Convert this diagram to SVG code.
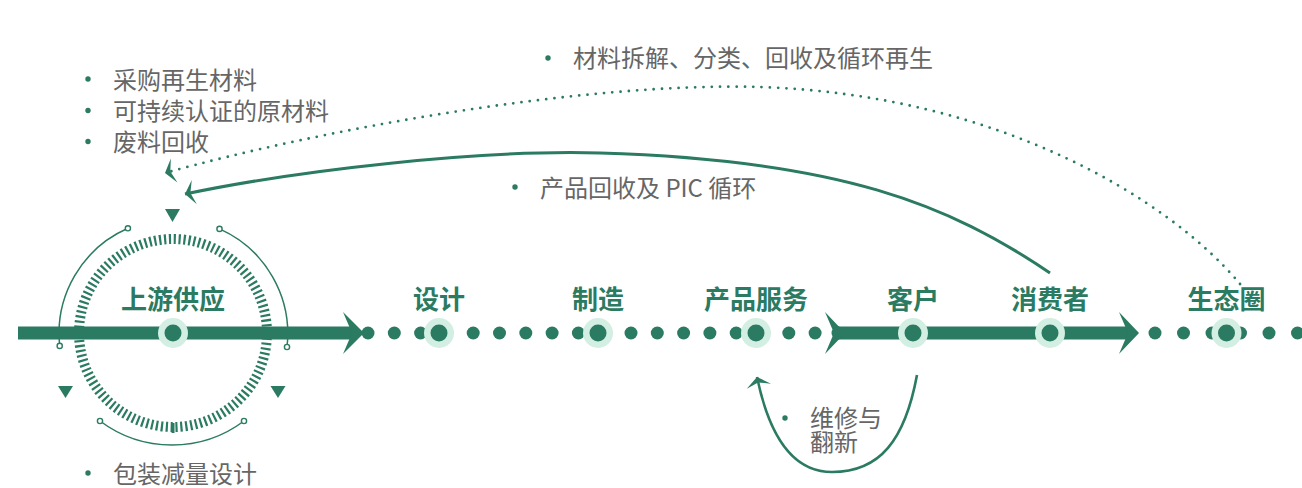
<svg xmlns="http://www.w3.org/2000/svg" width="1302" height="488" viewBox="0 0 1302 488">
<style>
.lbl{font-family:"Noto Sans CJK SC","Noto Sans",sans-serif;font-weight:700;font-size:26px;fill:#2b7a62;text-anchor:middle}
.txt{font-family:"Noto Sans CJK SC","Noto Sans",sans-serif;font-size:24px;fill:#666666}
.dot{fill:#2b7a62}
.bul{fill:#2b7a62}
.halo{fill:#d3eee2}
.core{fill:#2b7a62}
.thin{fill:none;stroke:#2b7a62;stroke-width:1.5}
.end{fill:#ffffff;stroke:#2b7a62;stroke-width:1.4}
.tri{fill:#2b7a62}
.conn{fill:none;stroke:#2b7a62;stroke-width:3}
.dotted{fill:none;stroke:#2b7a62;stroke-width:2.8;stroke-linecap:round;stroke-dasharray:0 8.3}
</style>
<defs>
<marker id="ah" viewBox="0 0 12 26" refX="10" refY="13" markerWidth="12" markerHeight="26" markerUnits="userSpaceOnUse" orient="auto">
<path d="M10,13 L0.5,0.6 L4.5,13 L0.5,25.4 Z" fill="#2b7a62"/>
</marker>
</defs>
<rect width="1302" height="488" fill="#ffffff"/>

<g id="ring-decor">
<circle cx="173" cy="333" r="94" fill="none" stroke="#2b7a62" stroke-width="10" stroke-dasharray="2.2 2.722"/>
<rect x="171.5" y="423" width="3" height="10" fill="#2b7a62"/>
<path class="thin" d="M59.7,345.9 A115,115 0 0 1 127.9,228.3"/>
<path class="thin" d="M219.5,228.9 A115,115 0 0 1 287,347"/>
<path class="thin" d="M100,421 A120,120 0 0 0 244,421"/>
<circle class="end" cx="59.7" cy="345.9" r="2.6"/>
<circle class="end" cx="127.9" cy="228.3" r="2.6"/>
<circle class="end" cx="219.5" cy="228.9" r="2.6"/>
<circle class="end" cx="287" cy="347" r="2.6"/>
<circle class="end" cx="100" cy="421" r="2.6"/>
<circle class="end" cx="244" cy="421" r="2.6"/>
<polygon class="tri" points="165,209 180,209 172.5,222"/>
<polygon class="tri" points="58,386 73,386 65.5,398"/>
<polygon class="tri" points="270.5,386 285.5,386 278,398"/>
</g>

<g id="axis">
<g id="dots">
<circle class="dot" cx="368" cy="333" r="6.5"/>
<circle class="dot" cx="394.3" cy="333" r="6.5"/>
<circle class="dot" cx="420.6" cy="333" r="6.5"/>
<circle class="dot" cx="446.9" cy="333" r="6.5"/>
<circle class="dot" cx="473.2" cy="333" r="6.5"/>
<circle class="dot" cx="499.5" cy="333" r="6.5"/>
<circle class="dot" cx="525.8" cy="333" r="6.5"/>
<circle class="dot" cx="552.1" cy="333" r="6.5"/>
<circle class="dot" cx="578.4" cy="333" r="6.5"/>
<circle class="dot" cx="604.7" cy="333" r="6.5"/>
<circle class="dot" cx="631" cy="333" r="6.5"/>
<circle class="dot" cx="657.3" cy="333" r="6.5"/>
<circle class="dot" cx="683.6" cy="333" r="6.5"/>
<circle class="dot" cx="709.9" cy="333" r="6.5"/>
<circle class="dot" cx="736.2" cy="333" r="6.5"/>
<circle class="dot" cx="762.5" cy="333" r="6.5"/>
<circle class="dot" cx="788.8" cy="333" r="6.5"/>
<circle class="dot" cx="815.1" cy="333" r="6.5"/>
<circle class="dot" cx="838" cy="333" r="6.5"/>
<circle class="dot" cx="1155" cy="333" r="6.5"/>
<circle class="dot" cx="1183.5" cy="333" r="6.5"/>
<circle class="dot" cx="1212" cy="333" r="6.5"/>
<circle class="dot" cx="1240.5" cy="333" r="6.5"/>
<circle class="dot" cx="1269" cy="333" r="6.5"/>
<circle class="dot" cx="1297.5" cy="333" r="6.5"/>
</g>
<rect x="18" y="326.5" width="337" height="13" fill="#2b7a62"/>
<polygon class="tri" points="343,312 364,333 343,354 352,333"/>
<rect x="834" y="326.5" width="296" height="13" fill="#2b7a62"/>
<polygon class="tri" points="825,312 845,333 825,354 834,333"/>
<polygon class="tri" points="1119,312 1139,333 1119,354 1128,333"/>
</g>

<g id="node-upstream"><circle class="halo" cx="173" cy="333" r="15"/><circle class="core" cx="173" cy="333" r="8.5"/><text class="lbl" x="173" y="309">上游供应</text></g>
<g id="node-design"><circle class="halo" cx="439" cy="333" r="15"/><circle class="core" cx="439" cy="333" r="8.5"/><text class="lbl" x="439" y="309">设计</text></g>
<g id="node-manufacture"><circle class="halo" cx="598" cy="333" r="15"/><circle class="core" cx="598" cy="333" r="8.5"/><text class="lbl" x="598" y="309">制造</text></g>
<g id="node-service"><circle class="halo" cx="756" cy="333" r="15"/><circle class="core" cx="756" cy="333" r="8.5"/><text class="lbl" x="756" y="309">产品服务</text></g>
<g id="node-customer"><circle class="halo" cx="913" cy="333" r="15"/><circle class="core" cx="913" cy="333" r="8.5"/><text class="lbl" x="913" y="309">客户</text></g>
<g id="node-consumer"><circle class="halo" cx="1050" cy="333" r="15"/><circle class="core" cx="1050" cy="333" r="8.5"/><text class="lbl" x="1050" y="309">消费者</text></g>
<g id="node-ecosystem"><circle class="halo" cx="1226.5" cy="333" r="15"/><circle class="core" cx="1226.5" cy="333" r="8.5"/><text class="lbl" x="1226.5" y="309">生态圈</text></g>

<g id="connectors">
<path class="conn" d="M1050,273 C950,205 840,160 600,153 C480,149.5 300,170 185,194" marker-end="url(#ah)"/>
<path class="dotted" d="M1240,284 C1170,200 1000,95 760,87 C580,82 320,130 165,173" marker-end="url(#ah)"/>
<path class="conn" style="stroke-width:2.6" d="M917,375 C905,440 880,472 832,472 C790,472 768,430 757,377" marker-end="url(#ah)"/>
</g>

<g id="notes">
<circle class="bul" cx="88" cy="79" r="2.7"/><text class="txt" x="113" y="89">采购再生材料</text>
<circle class="bul" cx="88" cy="110.5" r="2.7"/><text class="txt" x="113" y="120">可持续认证的原材料</text>
<circle class="bul" cx="88" cy="141.5" r="2.7"/><text class="txt" x="113" y="151">废料回收</text>
<circle class="bul" cx="548" cy="58" r="2.7"/><text class="txt" x="573" y="67">材料拆解、分类、回收及循环再生</text>
<circle class="bul" cx="515" cy="187" r="2.7"/><text class="txt" x="540" y="196.5">产品回收及 PIC 循环</text>
<circle class="bul" cx="88" cy="473" r="2.7"/><text class="txt" x="113" y="483">包装减量设计</text>
<circle class="bul" cx="785" cy="418" r="2.7"/><text class="txt" x="810" y="426.5">维修与</text><text class="txt" x="810" y="451">翻新</text>
</g>
</svg>
